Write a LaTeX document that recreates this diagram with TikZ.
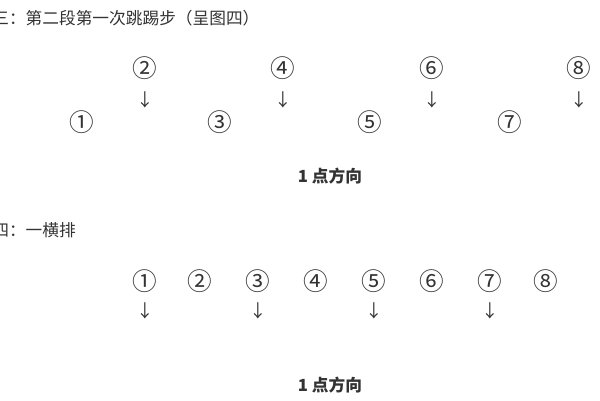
\documentclass[tikz,border=0pt]{standalone}
\usepackage{fontspec}
\setmainfont{Noto Sans CJK SC}
\begin{document}
\begin{tikzpicture}[x=0.02cm,y=-0.02cm,
  t/.style={font=\fontsize{9.5pt}{11pt}\selectfont, text=black!80, inner sep=0},
  c/.style={t, font=\fontsize{14pt}{15pt}\selectfont},
  ar/.style={t, font=\fontsize{10pt}{12pt}\selectfont},
  dir/.style={t, font=\fontsize{9.5pt}{11pt}\selectfont\bfseries}]
\clip (0,0) rectangle (600,400);
\fill[white] (0,0) rectangle (600,400);
\node[t, anchor=west] (h1) at (-8,18) {三：第二段第一次跳踢步（呈图四）};
\foreach \n/\x/\y in {1/82/122,2/145/68,3/220/122,4/283/68,5/370/122,6/432/68,7/510/122,8/579/68}
  \node[c] (a\n) at (\x,\y) {\ifcase\n\or ①\or ②\or ③\or ④\or ⑤\or ⑥\or ⑦\or ⑧\fi};
\foreach \n in {2,4,6,8} \node[ar] (aa\n) at ([yshift=-0.64cm]a\n) {↓};
\node[dir] (d1) at (330,176) {1 点方向};
\node[t, anchor=west] (h2) at (-8,230) {四：一横排};
\foreach \n/\x in {1/145,2/200,3/258,4/316,5/374,6/432,7/490,8/546}
  \node[c] (b\n) at (\x,281) {\ifcase\n\or ①\or ②\or ③\or ④\or ⑤\or ⑥\or ⑦\or ⑧\fi};
\foreach \n in {1,3,5,7} \node[ar] (bb\n) at ([yshift=-0.6cm]b\n) {↓};
\node[dir] (d2) at (330,385) {1 点方向};
\end{tikzpicture}
\end{document}
